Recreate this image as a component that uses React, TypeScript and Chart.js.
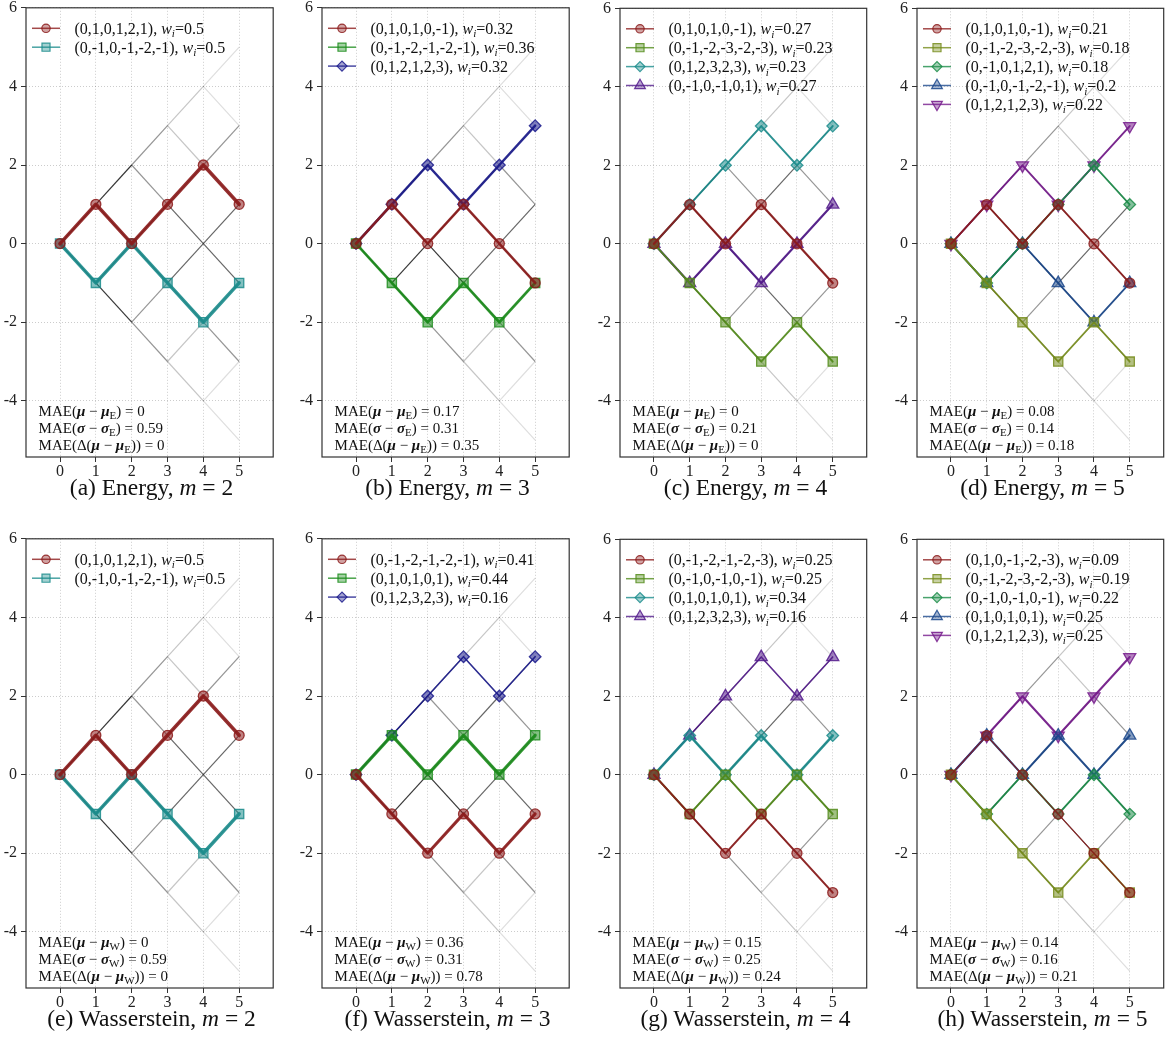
import React, { useEffect, useRef } from 'react';
import { Chart, registerables } from 'chart.js';
import { drawPoint } from 'chart.js/helpers';
Chart.register(...registerables);

// ---------- data ----------
const STEPS = [0, 1, 2, 3, 4, 5];
const X_TICKS = [0, 1, 2, 3, 4, 5];
const Y_TICKS = [-4, -2, 0, 2, 4, 6];

// (a) Energy, m = 2
const aPaths = [[0, 1, 0, 1, 2, 1], [0, -1, 0, -1, -2, -1]];
const aWeights = [0.5, 0.5];
const aMae = ['0', '0.59', '0'];
// (b) Energy, m = 3
const bPaths = [[0, 1, 0, 1, 0, -1], [0, -1, -2, -1, -2, -1], [0, 1, 2, 1, 2, 3]];
const bWeights = [0.32, 0.36, 0.32];
const bMae = ['0.17', '0.31', '0.35'];
// (c) Energy, m = 4
const cPaths = [[0, 1, 0, 1, 0, -1], [0, -1, -2, -3, -2, -3], [0, 1, 2, 3, 2, 3], [0, -1, 0, -1, 0, 1]];
const cWeights = [0.27, 0.23, 0.23, 0.27];
const cMae = ['0', '0.21', '0'];
// (d) Energy, m = 5
const dPaths = [[0, 1, 0, 1, 0, -1], [0, -1, -2, -3, -2, -3], [0, -1, 0, 1, 2, 1], [0, -1, 0, -1, -2, -1], [0, 1, 2, 1, 2, 3]];
const dWeights = [0.21, 0.18, 0.18, 0.2, 0.22];
const dMae = ['0.08', '0.14', '0.18'];
// (e) Wasserstein, m = 2
const ePaths = [[0, 1, 0, 1, 2, 1], [0, -1, 0, -1, -2, -1]];
const eWeights = [0.5, 0.5];
const eMae = ['0', '0.59', '0'];
// (f) Wasserstein, m = 3
const fPaths = [[0, -1, -2, -1, -2, -1], [0, 1, 0, 1, 0, 1], [0, 1, 2, 3, 2, 3]];
const fWeights = [0.41, 0.44, 0.16];
const fMae = ['0.36', '0.31', '0.78'];
// (g) Wasserstein, m = 4
const gPaths = [[0, -1, -2, -1, -2, -3], [0, -1, 0, -1, 0, -1], [0, 1, 0, 1, 0, 1], [0, 1, 2, 3, 2, 3]];
const gWeights = [0.25, 0.25, 0.34, 0.16];
const gMae = ['0.15', '0.25', '0.24'];
// (h) Wasserstein, m = 5
const hPaths = [[0, 1, 0, -1, -2, -3], [0, -1, -2, -3, -2, -3], [0, -1, 0, -1, 0, -1], [0, 1, 0, 1, 0, 1], [0, 1, 2, 1, 2, 3]];
const hWeights = [0.09, 0.19, 0.22, 0.25, 0.25];
const hMae = ['0.14', '0.16', '0.21'];

type Panel = { letter: string; method: string; sub: string; m: number; paths: number[][]; weights: number[]; mae: string[]; col: number; row: number };

const PANELS: Panel[] = [
  { letter: 'a', method: 'Energy', sub: 'E', m: 2, paths: aPaths, weights: aWeights, mae: aMae, col: 0, row: 0 },
  { letter: 'b', method: 'Energy', sub: 'E', m: 3, paths: bPaths, weights: bWeights, mae: bMae, col: 1, row: 0 },
  { letter: 'c', method: 'Energy', sub: 'E', m: 4, paths: cPaths, weights: cWeights, mae: cMae, col: 2, row: 0 },
  { letter: 'd', method: 'Energy', sub: 'E', m: 5, paths: dPaths, weights: dWeights, mae: dMae, col: 3, row: 0 },
  { letter: 'e', method: 'Wasserstein', sub: 'W', m: 2, paths: ePaths, weights: eWeights, mae: eMae, col: 0, row: 1 },
  { letter: 'f', method: 'Wasserstein', sub: 'W', m: 3, paths: fPaths, weights: fWeights, mae: fMae, col: 1, row: 1 },
  { letter: 'g', method: 'Wasserstein', sub: 'W', m: 4, paths: gPaths, weights: gWeights, mae: gMae, col: 2, row: 1 },
  { letter: 'h', method: 'Wasserstein', sub: 'W', m: 5, paths: hPaths, weights: hWeights, mae: hMae, col: 3, row: 1 },
];

// ---------- layout / style ----------
const COL_LEFT = [0, 296, 594, 891];
const ROW_TOP = [0, 531];
const CANVAS_W = 281;
const CANVAS_H = 483;
const Y_AXIS_W = 26;
const X_AXIS_H = 26;
const SERIF = '"Liberation Serif", "Times New Roman", serif';

const SHAPES = ['circle', 'rect', 'rectRot', 'triangle', 'triangle'];
const ROTS = [0, 0, 0, 0, 180];
const RADII = [5, 6.5, 5.8, 7, 7];

function hsv(h: number, s: number, v: number): number[] {
  const c = v * s;
  const hp = h / 60;
  const x = c * (1 - Math.abs((hp % 2) - 1));
  let r = 0, g = 0, b = 0;
  if (hp < 1) [r, g, b] = [c, x, 0];
  else if (hp < 2) [r, g, b] = [x, c, 0];
  else if (hp < 3) [r, g, b] = [0, c, x];
  else if (hp < 4) [r, g, b] = [0, x, c];
  else if (hp < 5) [r, g, b] = [x, 0, c];
  else [r, g, b] = [c, 0, x];
  const m = v - c;
  return [Math.round((r + m) * 255), Math.round((g + m) * 255), Math.round((b + m) * 255)];
}
const rgba = (c: number[], a: number) => `rgba(${c[0]},${c[1]},${c[2]},${a})`;

function binom(n: number, k: number) {
  let r = 1;
  for (let i = 1; i <= k; i++) r = (r * (n - k + i)) / i;
  return r;
}

function latticeDatasets() {
  const out: any[] = [];
  for (let t = 0; t < STEPS.length - 1; t++) {
    for (let y = -t; y <= t; y += 2) {
      const p = (binom(t, (t + y) / 2) / Math.pow(2, t)) * 0.5;
      const alpha = Math.min(0.85, 0.04 + 3 * p);
      for (const d of [1, -1]) {
        out.push({
          data: [{ x: STEPS[t], y }, { x: STEPS[t + 1], y: y + d }],
          borderColor: `rgba(0,0,0,${alpha.toFixed(3)})`,
          borderWidth: 1.2,
          pointRadius: 0,
          order: 100,
        });
      }
    }
  }
  return out;
}

type Seg = { t: string; f: string; dy?: number };
function drawSegs(ctx: CanvasRenderingContext2D, x: number, y: number, segs: Seg[]) {
  let cx = x;
  for (const s of segs) {
    ctx.font = s.f;
    ctx.fillText(s.t, cx, y + (s.dy || 0));
    cx += ctx.measureText(s.t).width;
  }
}

function PanelChart({ panel }: { panel: Panel }) {
  const ref = useRef<HTMLCanvasElement>(null);
  useEffect(() => {
    const n = panel.paths.length;
    const colors = panel.paths.map((_, k) => hsv((360 * k) / n, 0.81, 0.55));
    const series = panel.paths.map((path, k) => ({
      data: path.map((y, t) => ({ x: STEPS[t], y })),
      borderColor: rgba(colors[k], 0.9),
      borderWidth: 0.6 + 6 * panel.weights[k],
      borderJoinStyle: 'round',
      borderCapStyle: 'round',
      pointStyle: SHAPES[k],
      pointRotation: ROTS[k],
      pointRadius: RADII[k],
      pointBackgroundColor: rgba(colors[k], 0.55),
      pointBorderColor: rgba(colors[k], 0.85),
      pointBorderWidth: 1.3,
      order: k,
      tension: 0,
    }));

    const overlay = {
      id: 'overlay',
      afterDraw(chart: any) {
        const { ctx, chartArea: a } = chart;
        ctx.save();
        ctx.strokeStyle = '#333';
        ctx.lineWidth = 1.2;
        ctx.strokeRect(a.left, a.top, a.right - a.left, a.bottom - a.top);
        ctx.textBaseline = 'alphabetic';
        ctx.fillStyle = '#111';
        // legend
        panel.paths.forEach((path, k) => {
          const cy = a.top + 20.5 + k * 18.9;
          const c = colors[k];
          ctx.strokeStyle = rgba(c, 0.8);
          ctx.lineWidth = 1.5;
          ctx.beginPath();
          ctx.moveTo(a.left + 6, cy);
          ctx.lineTo(a.left + 34, cy);
          ctx.stroke();
          ctx.fillStyle = rgba(c, 0.4);
          ctx.strokeStyle = rgba(c, 0.85);
          ctx.lineWidth = 1.2;
          drawPoint(ctx, { pointStyle: SHAPES[k], rotation: ROTS[k], radius: RADII[k] - 0.8, borderWidth: 1.2 } as any, a.left + 20, cy);
          ctx.fillStyle = '#111';
          drawSegs(ctx, a.left + 48.5, cy + 5.5, [
            { t: `(${path.join(',')}), `, f: `16px ${SERIF}` },
            { t: 'w', f: `italic 16px ${SERIF}` },
            { t: 'i', f: `italic 11px ${SERIF}`, dy: 3.5 },
            { t: `=${panel.weights[k]}`, f: `16px ${SERIF}` },
          ]);
        });
        // MAE text
        const N = `15px ${SERIF}`;
        const B = `italic bold 15px ${SERIF}`;
        const S = `11px ${SERIF}`;
        const x0 = a.left + 12.6;
        const base = a.bottom - 46 + 5;
        drawSegs(ctx, x0, base, [
          { t: 'MAE(', f: N }, { t: 'μ', f: B }, { t: ' \u2212 ', f: N }, { t: 'μ', f: B },
          { t: panel.sub, f: S, dy: 3 }, { t: `) = ${panel.mae[0]}`, f: N },
        ]);
        drawSegs(ctx, x0, base + 16.8, [
          { t: 'MAE(', f: N }, { t: 'σ', f: B }, { t: ' \u2212 ', f: N }, { t: 'σ', f: B },
          { t: panel.sub, f: S, dy: 3 }, { t: `) = ${panel.mae[1]}`, f: N },
        ]);
        drawSegs(ctx, x0, base + 33.5, [
          { t: 'MAE(Δ(', f: N }, { t: 'μ', f: B }, { t: ' \u2212 ', f: N }, { t: 'μ', f: B },
          { t: panel.sub, f: S, dy: 3 }, { t: `)) = ${panel.mae[2]}`, f: N },
        ]);
        ctx.restore();
      },
    };

    const tickFont = { family: SERIF, size: 16 };
    const chart = new Chart(ref.current as HTMLCanvasElement, {
      type: 'line',
      data: { datasets: [...series, ...latticeDatasets()] as any },
      options: {
        animation: false,
        responsive: false,
        maintainAspectRatio: false,
        devicePixelRatio: 1,
        layout: { padding: { top: 5, right: 4, left: 0, bottom: 0 } },
        plugins: { legend: { display: false }, tooltip: { enabled: false } },
        elements: { line: { tension: 0 } },
        scales: {
          x: {
            type: 'linear',
            min: -0.95,
            max: 5.95,
            afterBuildTicks: (s: any) => { s.ticks = X_TICKS.map((v) => ({ value: v })); },
            afterFit: (s: any) => { s.height = X_AXIS_H; s.paddingLeft = 0; s.paddingRight = 0; },
            ticks: { font: tickFont, color: '#222', padding: 0, maxRotation: 0, autoSkip: false },
            grid: { color: 'rgba(0,0,0,0.2)', lineWidth: 1, tickLength: 5, tickColor: '#333', tickWidth: 1, tickBorderDash: [] },
            border: { display: false, dash: [1, 2] },
          },
          y: {
            type: 'linear',
            min: -5.43,
            max: 6,
            afterBuildTicks: (s: any) => { s.ticks = Y_TICKS.map((v) => ({ value: v })); },
            afterFit: (s: any) => { s.width = Y_AXIS_W; s.paddingTop = 0; s.paddingBottom = 0; },
            ticks: { font: tickFont, color: '#222', padding: 4, autoSkip: false },
            grid: { color: 'rgba(0,0,0,0.2)', lineWidth: 1, tickLength: 5, tickColor: '#333', tickWidth: 1, tickBorderDash: [] },
            border: { display: false, dash: [1, 2] },
          },
        },
      } as any,
      plugins: [overlay],
    });
    return () => chart.destroy();
  }, [panel]);

  const left = COL_LEFT[panel.col];
  const top = ROW_TOP[panel.row];
  const plotCenter = left + Y_AXIS_W + (CANVAS_W - Y_AXIS_W - 4) / 2;
  return (
    <>
      <canvas
        ref={ref}
        width={CANVAS_W}
        height={CANVAS_H}
        style={{ position: 'absolute', left, top, width: CANVAS_W, height: CANVAS_H }}
      />
      <div
        style={{
          position: 'absolute',
          left: plotCenter - 150,
          top: top + 474,
          width: 300,
          textAlign: 'center',
          fontFamily: SERIF,
          fontSize: 23.5,
          lineHeight: '26px',
          color: '#111',
          whiteSpace: 'nowrap',
        }}
      >
        ({panel.letter}) {panel.method}, <i>m</i>&nbsp;=&nbsp;{panel.m}
      </div>
    </>
  );
}

export default function App() {
  return (
    <div style={{ position: 'absolute', left: 0, top: 0, width: 1172, height: 1059, background: '#fff' }}>
      {PANELS.map((p) => (
        <PanelChart key={p.letter} panel={p} />
      ))}
    </div>
  );
}
